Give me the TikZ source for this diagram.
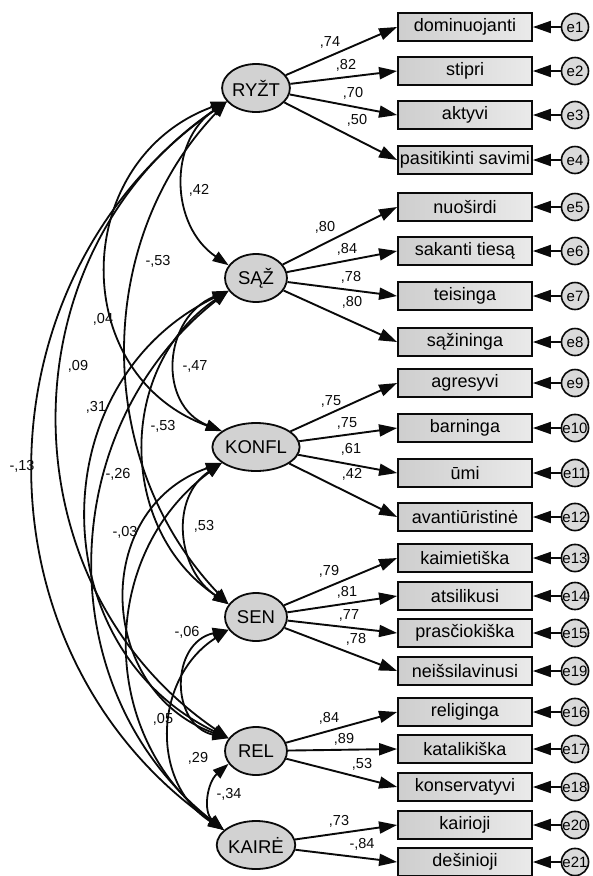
\documentclass[tikz,border=0pt]{standalone}
\usepackage{fontspec}
\setmainfont{Liberation Sans}
\usetikzlibrary{arrows.meta,shapes.geometric}
\definecolor{latfill}{HTML}{D2D2D2}
\definecolor{obsl}{HTML}{CECECE}
\definecolor{obsr}{HTML}{EAEAEA}
\definecolor{errfill}{HTML}{DADADA}
\definecolor{ink}{HTML}{0A0A0A}
\begin{document}
\begin{tikzpicture}[x=1pt,y=-1pt,
  lat/.style={ellipse,draw=ink,line width=1.8pt,fill=latfill,minimum width=62pt,minimum height=48pt,inner sep=0pt,font=\fontsize{18.5}{19}\selectfont},
  obs/.style={rectangle,draw=ink,line width=1.8pt,left color=obsl,right color=obsr,minimum width=134pt,minimum height=28pt,inner sep=0pt,font=\fontsize{18}{19}\selectfont},
  err/.style={circle,draw=ink,line width=1.6pt,fill=errfill,minimum size=27pt,inner sep=0pt,font=\fontsize{15}{16}\selectfont},
  load/.style={draw=ink,line width=1.9pt,-{Triangle[length=18pt,width=12pt]}},
  cov/.style={draw=ink,line width=1.8pt,{Triangle[length=16pt,width=11pt]}-{Triangle[length=16pt,width=11pt]}},
  lab/.style={font=\fontsize{14.5}{15}\selectfont,inner sep=0pt,text=ink},
]
\fill[white] (0,0) rectangle (593,876);
\useasboundingbox (0,0) rectangle (593,876);

% latent variables
\node[lat] (R) at (256,88) {RYŽT};
\node[lat] (S) at (256,278) {SĄŽ};
\node[lat] (K) at (256,447) {KONFL};
\node[lat] (N) at (256,617) {SEN};
\node[lat] (L) at (256,751) {REL};
\node[lat] (A) at (256,845) {KAIRĖ};

% observed variables and errors
\foreach \n/\y/\t/\e in {
  o1/27/dominuojanti/e1, o2/71/stipri/e2, o3/115/aktyvi/e3, o4/160/pasitikinti savimi/e4,
  o5/207/nuoširdi/e5, o6/251/sakanti tiesą/e6, o7/296/teisinga/e7, o8/342/sąžininga/e8,
  o9/383/agresyvi/e9, o10/428/barninga/e10, o11/473/ūmi/e11, o12/517/avantiūristinė/e12,
  o13/558/kaimietiška/e13, o14/596/atsilikusi/e14, o15/633/prasčiokiška/e15, o16/671/neišsilavinusi/e19,
  o17/712/religinga/e16, o18/749/katalikiška/e17, o19/787/konservatyvi/e18,
  o20/825/kairioji/e20, o21/862/dešinioji/e21}{
  \node[obs] (\n) at (465,\y) {\t};
  \node[err] (err\n) at (575,\y) {\e};
  \draw[load] (err\n) -- (\n.east);
}

% loadings
\foreach \l/\o in {R/o1,R/o2,R/o3,R/o4,S/o5,S/o6,S/o7,S/o8,K/o9,K/o10,K/o11,K/o12,
  N/o13,N/o14,N/o15,N/o16,L/o17,L/o18,L/o19,A/o20,A/o21}{
  \draw[load] (\l) -- (\o.west);
}

% loading labels
\foreach \x/\y/\t [count=\i] in {
  330/42/{,74}, 346/65/{,82}, 353/93/{,70}, 357/120/{,50},
  325/227/{,80}, 347/249/{,84}, 351/277/{,78}, 352/302/{,80},
  331/401/{,75}, 347/423/{,75}, 351/449/{,61}, 352/474/{,42},
  329/571/{,79}, 347/592/{,81}, 349/615/{,77}, 356/639/{,78},
  329/718/{,84}, 344/739/{,89}, 362/764/{,53},
  339/821/{,73}, 362/844/{-,84}}{
  \node[lab] (ll\i) at (\x,\y) {\t};
}

% covariances
\draw[cov] (R.205) .. controls +(-58.7,39.8) and +(-58.7,-39.8) .. (S.155);
\draw[cov] (S.205) .. controls +(-65.3,26.3) and +(-65.3,-26.3) .. (K.155);
\draw[cov] (K.205) .. controls +(-52,34.8) and +(-52,-34.8) .. (N.155);
\draw[cov] (N.205) .. controls +(-58.7,13.2) and +(-58.7,-13.2) .. (L.155);
\draw[cov] (L.205) .. controls +(-21.3,18.5) and +(-21.3,-18.5) .. (A.155);
\draw[cov] (R.205) .. controls +(-254.7,178) and +(-254.7,-178) .. (A.155);
\draw[cov] (R.205) .. controls +(-225.3,153.4) and +(-225.3,-153.4) .. (L.155);
\draw[cov] (S.205) .. controls +(-188,90.6) and +(-188,-90.6) .. (L.155);
\draw[cov] (S.205) .. controls +(-176,138.2) and +(-176,-138.2) .. (A.155);
\draw[cov] (R.205) .. controls +(-156,57.2) and +(-156,-57.2) .. (K.155);
\draw[cov] (R.205) .. controls +(-134.7,141.4) and +(-134.7,-141.4) .. (N.155);
\draw[cov] (S.205) .. controls +(-112,75.1) and +(-112,-75.1) .. (N.155);
\draw[cov] (K.205) .. controls +(-132,46.7) and +(-132,-46.7) .. (L.155);
\draw[cov] (K.205) .. controls +(-125.3,93.2) and +(-125.3,-93.2) .. (A.155);
\draw[cov] (N.205) .. controls +(-74.7,47.5) and +(-74.7,-47.5) .. (A.155);

% covariance labels
\foreach \x/\y/\t [count=\i] in {
  199/190/{,42}, 158/261/{-,53}, 103/319/{,04}, 78/366/{,09}, 195/366/{-,47},
  96/407/{,31}, 163/426/{-,53}, 22/466/{-,13}, 118/474/{-,26}, 125/532/{-,03},
  204/526/{,53}, 187/632/{-,06}, 163/719/{,05}, 198/758/{,29}, 229/794/{-,34}}{
  \node[lab] (cl\i) at (\x,\y) {\t};
}
\end{tikzpicture}
\end{document}
